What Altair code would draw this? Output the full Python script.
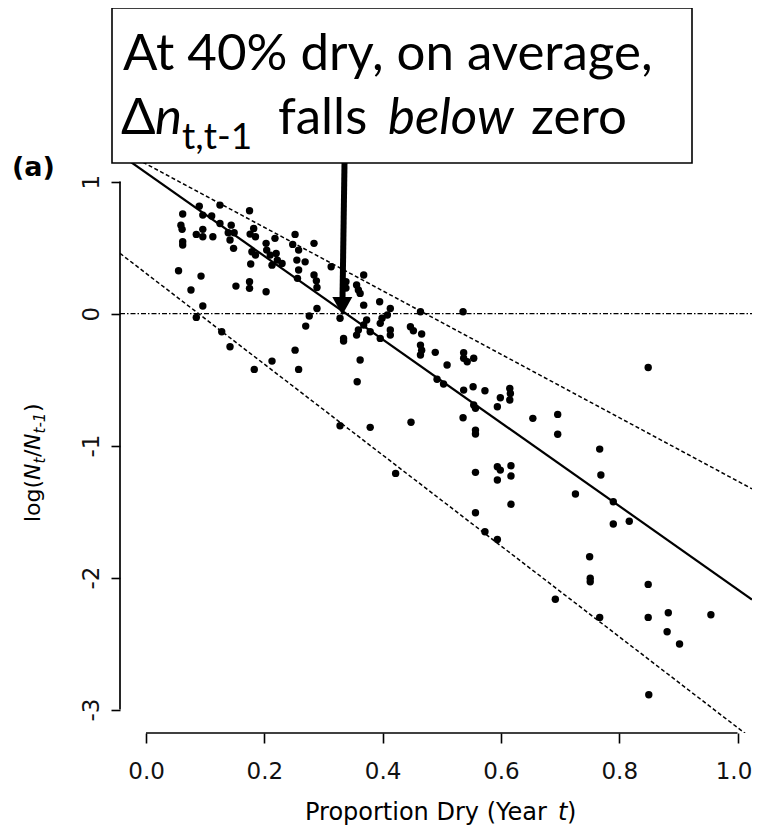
import altair as alt
import pandas as pd

# ---------------- data ----------------
prop_dry = [
    0.062, 0.059, 0.061, 0.062, 0.062, 0.090, 0.096, 0.111, 0.125, 0.125,
    0.085, 0.096, 0.096, 0.113, 0.144, 0.139, 0.149, 0.142, 0.148, 0.175,
    0.182, 0.176, 0.185, 0.179, 0.185, 0.177, 0.203, 0.218, 0.204, 0.210,
    0.220, 0.222, 0.213, 0.230, 0.252, 0.248, 0.258, 0.255, 0.258, 0.256,
    0.269, 0.284, 0.284, 0.288, 0.289, 0.313, 0.055, 0.093, 0.076, 0.096,
    0.085, 0.152, 0.175, 0.175, 0.203, 0.128, 0.289, 0.276, 0.270, 0.142,
    0.183, 0.213, 0.252, 0.258,
    0.368, 0.338, 0.338, 0.356, 0.359, 0.362, 0.368, 0.395, 0.328, 0.334,
    0.334, 0.413, 0.408, 0.399, 0.396, 0.373, 0.368, 0.359, 0.356, 0.379,
    0.396, 0.413, 0.413, 0.447, 0.452, 0.466, 0.464, 0.536, 0.464, 0.466,
    0.464, 0.489, 0.509, 0.537, 0.537, 0.543, 0.554, 0.362, 0.357, 0.492,
    0.503, 0.537, 0.553, 0.554, 0.328, 0.379, 0.448, 0.422,
    0.573, 0.599, 0.594, 0.615, 0.616, 0.615, 0.557, 0.536, 0.654, 0.696,
    0.696, 0.557, 0.557, 0.767, 0.769, 0.557, 0.594, 0.599, 0.594, 0.617,
    0.617, 0.726, 0.790, 0.617, 0.557, 0.790, 0.817, 0.573, 0.594, 0.750,
    0.751, 0.751, 0.692, 0.767, 0.849, 0.849, 0.883, 0.881, 0.902, 0.955,
    0.850, 0.849,
]
log_ratio = [
    0.754, 0.670, 0.638, 0.544, 0.519, 0.814, 0.746, 0.739, 0.822, 0.683,
    0.600, 0.638, 0.582, 0.582, 0.670, 0.612, 0.612, 0.557, 0.494, 0.779,
    0.645, 0.602, 0.582, 0.468, 0.443, 0.375, 0.532, 0.570, 0.481, 0.443,
    0.456, 0.405, 0.367, 0.380, 0.600, 0.524, 0.481, 0.405, 0.330, 0.267,
    0.392, 0.532, 0.292, 0.248, 0.198, 0.355, 0.324, 0.284, 0.178, 0.057,
    -0.029, 0.208, 0.241, 0.191, 0.165, -0.138, 0.039, -0.019, -0.095, -0.252,
    -0.423, -0.360, -0.277, -0.423,
    0.292, 0.241, 0.193, 0.216, 0.178, 0.153, 0.064, 0.089, -0.036, -0.188,
    -0.208, 0.039, -0.011, -0.036, -0.074, -0.049, -0.087, -0.125, -0.163, -0.138,
    -0.188, -0.125, -0.163, -0.100, -0.130, -0.155, 0.014, 0.014, -0.239, -0.277,
    -0.314, -0.294, -0.390, -0.297, -0.339, -0.365, -0.339, -0.352, -0.517, -0.498,
    -0.534, -0.580, -0.555, -0.693, -0.850, -0.862, -0.824, -1.211,
    -0.585, -0.638, -0.706, -0.567, -0.605, -0.655, -0.718, -0.789, -0.794, -0.764,
    -0.915, -0.883, -0.913, -1.027, -1.223, -1.203, -1.161, -1.186, -1.261, -1.153,
    -1.231, -1.367, -1.426, -1.445, -1.509, -1.595, -1.574, -1.653, -1.711, -1.842,
    -2.006, -2.032, -2.165, -2.302, -2.052, -2.302, -2.267, -2.411, -2.504, -2.282,
    -2.888, -0.408,
]

fit_names = ["fit", "upper", "lower"]
fit_intercepts = [1.067, 1.134, 0.305]
fit_slopes = [-3.156, -2.403, -3.442]

x_ticks = [0.0, 0.2, 0.4, 0.6, 0.8, 1.0]
y_ticks = [-3, -2, -1, 0, 1]

# ---------------- layout ----------------
X_MIN, X_MAX = -0.044, 1.0245
Y_MIN, Y_MAX = -3.178, 1.30
W, H = 632, 591
PAD_L, PAD_T, PAD_B, PAD_R = 112, 134, 92, 0
OX, OY = 8 + PAD_L, 8 + PAD_T  # page position of plot origin

pts = pd.DataFrame({"x": prop_dry, "y": log_ratio})

rows = []
for n, a, b in zip(fit_names, fit_intercepts, fit_slopes):
    for xv in (X_MIN, X_MAX):
        rows.append({"line": n, "x": xv, "y": a + b * xv})
lines = pd.DataFrame(rows)

one = pd.DataFrame({"k": [0]})

FONT = "DejaVu Sans"
BOXFONT = "Lato"

xs = alt.Scale(domain=[X_MIN, X_MAX], nice=False, zero=False)
ys = alt.Scale(domain=[Y_MIN, Y_MAX], nice=False, zero=False)

x_axis = alt.Axis(values=x_ticks, format=".1f", domain=False, grid=False,
                  tickSize=10, tickWidth=1.6, tickColor="black",
                  labelFont=FONT, labelFontSize=23, labelColor="#111",
                  labelPadding=17, labelFlush=False, labelOverlap=False,
                  labelBound=False,
                  labelOffset={"condition": {"test": "datum.value >= 1", "value": -4},
                               "value": 0},
                  title=None)
y_axis = alt.Axis(values=y_ticks, domain=False, grid=False,
                  tickSize=9, tickWidth=1.6, tickColor="black",
                  labelFont=FONT, labelFontSize=23, labelColor="#111",
                  labelAngle=270, labelAlign="center", labelBaseline="bottom",
                  labelPadding=8, labelOverlap=False, labelFlush=False,
                  labelExpr="replace(datum.label, '\u2212', '-')",
                  title=None)

X_ENC = alt.X("x:Q", scale=xs, axis=x_axis, title=None)
Y_ENC = alt.Y("y:Q", scale=ys, axis=y_axis, title=None)

points = alt.Chart(pts).mark_circle(size=55, color="black", opacity=1).encode(
    x=X_ENC, y=Y_ENC)

fit_line = alt.Chart(lines).transform_filter(alt.datum.line == "fit").mark_line(
    color="black", strokeWidth=2.2, clip=True
).encode(x=X_ENC, y=Y_ENC)

bound_lines = alt.Chart(lines).transform_filter(alt.datum.line != "fit").mark_line(
    color="black", strokeWidth=1.5, strokeDash=[4, 2.5], clip=True
).encode(x=X_ENC, y=Y_ENC, detail="line:N")

# axis lines and reference line (data positions)
ref_df = pd.DataFrame({"y0": [0.0], "ya": [y_ticks[-1]], "yb": [y_ticks[0]],
                       "xa": [x_ticks[0]], "xb": [x_ticks[-1]]})
zero_line = alt.Chart(ref_df).mark_rule(color="black", strokeWidth=1.3,
                                        strokeDash=[5, 2, 1.5, 2]).encode(
    y=alt.Y("y0:Q", scale=ys, axis=y_axis, title=None),
    x=alt.value(0), x2=alt.value(W))

y_axis_line = alt.Chart(ref_df).mark_rule(color="black", strokeWidth=1.7).encode(
    x=alt.value(0), y=alt.Y("ya:Q", scale=ys, axis=y_axis, title=None), y2="yb:Q")
x_axis_line = alt.Chart(ref_df).mark_rule(color="black", strokeWidth=1.7).encode(
    y=alt.value(H), x=alt.X("xa:Q", scale=xs, axis=x_axis, title=None), x2="xb:Q")


def txt(text, X, Y, size, font=FONT, align="left", baseline="alphabetic", **kw):
    return alt.Chart(one).mark_text(text=text, font=font, fontSize=size, align=align,
                                    baseline=baseline, color="black", **kw).encode(
        x=alt.value(X - OX), y=alt.value(Y - OY))


# annotation box
box = alt.Chart(one).mark_rect(fill="white", stroke="black", strokeWidth=1.6).encode(
    x=alt.value(112 - OX), x2=alt.value(692 - OX),
    y=alt.value(8 - OY), y2=alt.value(163 - OY))

box_texts = [
    txt("At 40% dry, on average,", 123, 70, 51, font=BOXFONT),
    txt("\u0394", 121, 134, 51, font=BOXFONT),
    txt("n", 155, 134, 51, font=BOXFONT, fontStyle="italic"),
    txt("t,t-1", 182, 149, 37, font=BOXFONT),
    txt("falls", 278, 134, 51, font=BOXFONT),
    txt("below", 388, 134, 51, font=BOXFONT, fontStyle="italic"),
    txt("zero", 531, 134, 51, font=BOXFONT),
]

arrow_shaft = alt.Chart(one).mark_rule(color="black", strokeWidth=6).encode(
    x=alt.value(344.5 - OX), y=alt.value(163 - OY),
    x2=alt.value(342.5 - OX), y2=alt.value(299 - OY))
arrow_head = alt.Chart(one).mark_point(
    shape="M-1,-0.9L1,-0.9L0,0.9Z", size=400, filled=True, color="black", opacity=1,
    strokeWidth=0).encode(x=alt.value(342.3 - OX), y=alt.value(306 - OY))

panel = txt("(a)", 12, 176, 27, fontWeight="bold")

# axis titles
x_title = [
    txt("Proportion Dry (Year", 305, 820, 24),
    txt("t", 558, 820, 24, fontStyle="italic"),
    txt(")", 567, 820, 24),
]
y_title = [
    txt("log(", 40, 522, 22, angle=270),
    txt("N", 40, 480, 22, angle=270, fontStyle="italic"),
    txt("t", 45, 463.5, 15, angle=270, fontStyle="italic"),
    txt("/", 40, 457, 22, angle=270),
    txt("N", 40, 450, 22, angle=270, fontStyle="italic"),
    txt("t-1", 45, 433.5, 15, angle=270, fontStyle="italic"),
    txt(")", 40, 412, 22, angle=270),
]

chart = alt.layer(
    points, bound_lines, fit_line, zero_line, y_axis_line, x_axis_line,
    box, *box_texts, arrow_shaft, arrow_head, panel, *x_title, *y_title,
).properties(
    width=W, height=H,
    autosize=alt.AutoSizeParams(type="none"),
    padding={"left": PAD_L, "top": PAD_T, "right": PAD_R, "bottom": PAD_B},
    background="white",
).configure_view(stroke=None)

chart.save("out.html", embed_options={"renderer": "svg", "actions": False})
